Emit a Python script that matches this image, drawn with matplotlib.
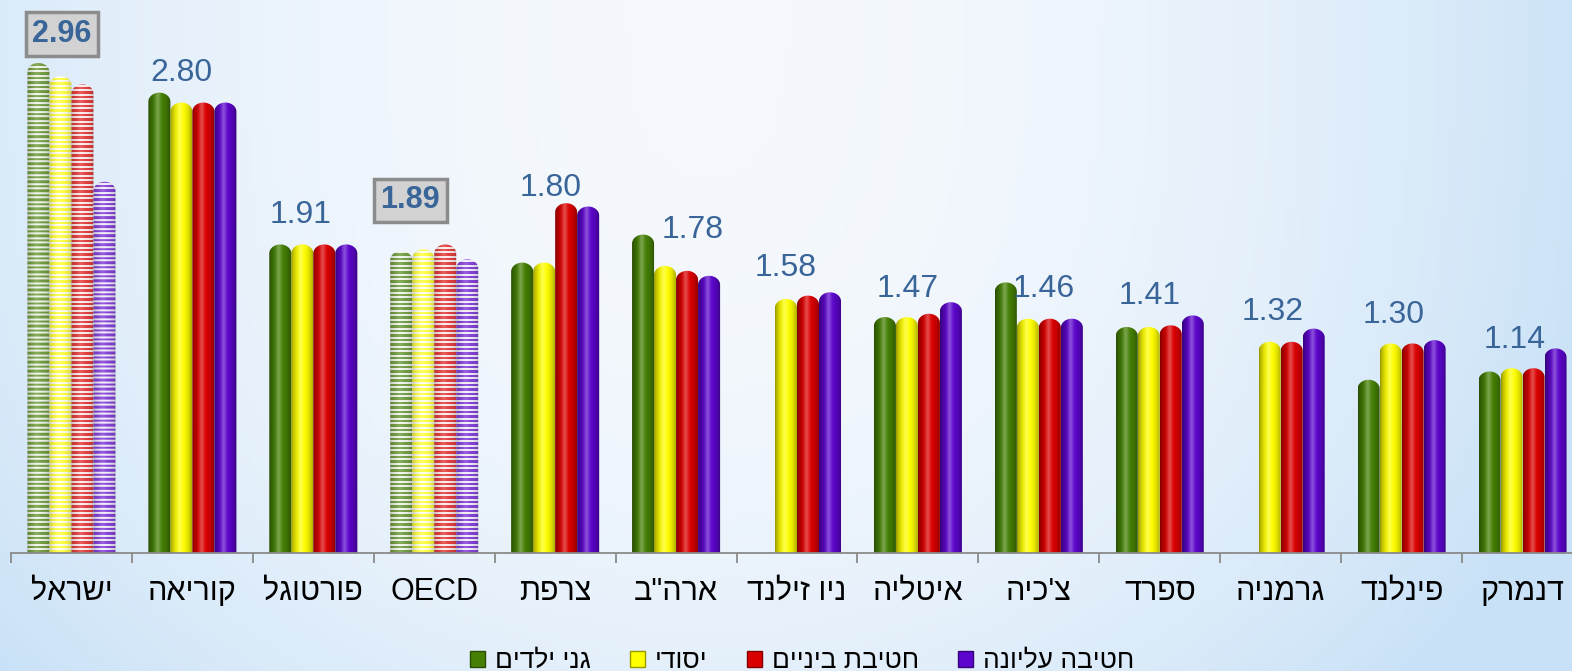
"""
Recreate the grouped cylinder bar chart (ratios by education level, by country).
"""

import matplotlib
matplotlib.use("Agg")
import matplotlib.pyplot as plt
import matplotlib.patches as mpatches
from matplotlib.path import Path
import numpy as np

# ── Data ──────────────────────────────────────────────────

countries = ["ישראל", "קוריאה", "פורטוגל", "OECD", "צרפת", 'ארה"ב', "ניו זילנד",
             "איטליה", "צ'כיה", "ספרד", "גרמניה", "פינלנד", "דנמרק"]
series_names = ["גני ילדים", "יסודי", "חטיבת ביניים", "חטיבה עליונה"]

kindergarten = [2.97, 2.79, 1.87, 1.83, 1.76, 1.93, np.nan, 1.43, 1.64, 1.37, np.nan, 1.05, 1.10]
primary = [2.89, 2.73, 1.87, 1.84, 1.76, 1.74, 1.54, 1.43, 1.42, 1.37, 1.28, 1.27, 1.12]
lower_sec = [2.84, 2.73, 1.87, 1.87, 2.12, 1.71, 1.56, 1.45, 1.42, 1.38, 1.28, 1.27, 1.12]
upper_sec = [2.25, 2.73, 1.87, 1.78, 2.10, 1.68, 1.58, 1.52, 1.42, 1.44, 1.36, 1.29, 1.24]

overall = [2.96, 2.80, 1.91, 1.89, 1.80, 1.78, 1.58, 1.47, 1.46, 1.41, 1.32, 1.30, 1.14]
boxed = ["ישראל", "OECD"]  # highlighted groups (striped bars, boxed label)

# ── Style ──────────────────────────────────────────────────

W, H, DPI = 1572, 671, 100
PX_PER_UNIT = 165.0
BASE_PX = 553
CAP_PX = 9
BAR_W = 0.182
LABEL_BLUE = "#3A6598"
AXIS_GRAY = "#8a8a8a"
COLORS = [(0.27, 0.50, 0.02), (1.0, 1.0, 0.0), (0.86, 0.0, 0.0), (0.36, 0.02, 0.80)]
FONT = ["Liberation Sans", "DejaVu Sans"]

# label placement (pixel offsets from top of group)
label_offsets = [(-9.5, 29), (-11, 20), (-13, 29), (-24, 44), (-5, 15), (17, 5), (-11, 24),
                 (-10, 13), (5, -7), (-10, 19), (-8.5, 17), (-8, 25), (-8, 8)]

plt.rcParams["font.family"] = FONT


def rtl(s):
    # matplotlib has no bidi support: reverse Hebrew strings for display
    if any("\u0590" <= c <= "\u05ff" for c in s):
        return s[::-1]
    return s


def shade_profile(n, base, striped, nrows):
    t = np.linspace(0, 1, n)
    base = np.array(base)
    if striped:
        dark = base * 0.75 + 0.25
        light = base * 0.08 + 0.92
        rows = np.arange(nrows)
        is_dark = ((rows % 4.5) < 2.3)[:, None, None]
        col = np.where(is_dark, dark, light)
        col = np.repeat(col, n, axis=1)
        shade = 0.76 + 0.24 * np.sin(np.pi * t) ** 0.6
        hl = 0.15 * np.exp(-((t - 0.42) / 0.14) ** 2)
    else:
        col = np.tile(base, (1, n, 1))
        shade = 0.58 + 0.42 * np.sin(np.pi * t) ** 0.7
        hl = 0.28 * np.exp(-((t - 0.42) / 0.12) ** 2)
    img = col * shade[None, :, None]
    img = img + (1 - img) * hl[None, :, None]
    return np.clip(img, 0, 1)


def draw_cylinder(ax, rect, color, striped):
    x0, w, h = rect.get_x(), rect.get_width(), rect.get_height()
    rect.set_visible(False)
    if not np.isfinite(h) or h <= 0:
        return
    cap = CAP_PX / PX_PER_UNIT
    t = np.linspace(0, np.pi, 40)
    xs = x0 + w / 2 + (w / 2) * np.cos(t)
    ys = h - cap + cap * np.sin(t)
    verts = [(x0, 0), (x0 + w, 0)] + list(zip(xs, ys)) + [(x0, 0)]
    codes = [Path.MOVETO] + [Path.LINETO] * (len(verts) - 2) + [Path.CLOSEPOLY]
    patch = mpatches.PathPatch(Path(verts, codes), facecolor="none", edgecolor="none")
    ax.add_patch(patch)
    nrows = max(int(round(h * PX_PER_UNIT)), 1) if striped else 1
    img = shade_profile(44, color, striped, nrows)
    im = ax.imshow(img, extent=(x0, x0 + w, 0, h), aspect="auto", origin="lower",
                   interpolation="bilinear", zorder=2)
    im.set_clip_path(patch)


fig = plt.figure(figsize=(W / DPI, H / DPI), dpi=DPI)

# background gradient
bg_ax = fig.add_axes([0, 0, 1, 1], zorder=-1)
gx, gy = np.meshgrid(np.linspace(0, 1, 300), np.linspace(0, 1, 150))
wgt = np.clip(0.9 * ((gx - 0.45) / 0.55) ** 2 + 0.4 * gy ** 3, 0, 1)
c_in = np.array([0.962, 0.976, 0.992])
c_out = np.array([0.79, 0.885, 0.97])
bg = c_in * (1 - wgt[..., None]) + c_out * wgt[..., None]
bg_ax.imshow(bg, aspect="auto", extent=(0, 1, 0, 1), origin="upper")
bg_ax.axis("off")

ax = fig.add_axes([11 / W, (H - BASE_PX) / H, 1.0, BASE_PX / H])
ax.patch.set_alpha(0)

x = np.arange(len(countries))
all_series = [kindergarten, primary, lower_sec, upper_sec]
for k, (vals, color) in enumerate(zip(all_series, COLORS)):
    bars = ax.bar(x + (k - 1.5) * BAR_W, vals, BAR_W, color=color)
    for i, rect in enumerate(bars):
        draw_cylinder(ax, rect, color, countries[i] in boxed)

ax.set_xlim(-0.5, len(countries) - 0.5)
ax.set_ylim(0, BASE_PX / PX_PER_UNIT)

# group value labels
for i, (v, (dx, dy)) in enumerate(zip(overall, label_offsets)):
    top = np.nanmax([s[i] for s in all_series])
    if countries[i] in boxed:
        ax.annotate(f"{v:.2f}", (x[i], top), xytext=(dx, dy), textcoords="offset pixels",
                    ha="center", va="center", fontsize=22, fontweight="bold", color=LABEL_BLUE,
                    bbox=dict(boxstyle="square,pad=0.22", facecolor="#d2d2d2",
                              edgecolor="#8c8c8c", linewidth=2.5), zorder=5)
    else:
        ax.annotate(f"{v:.2f}", (x[i], top), xytext=(dx, dy), textcoords="offset pixels",
                    ha="center", va="center", fontsize=23, color=LABEL_BLUE, zorder=5)

# axis
for side in ["left", "right", "top"]:
    ax.spines[side].set_visible(False)
ax.spines["bottom"].set_color(AXIS_GRAY)
ax.spines["bottom"].set_linewidth(1.3)
ax.set_yticks([])
ax.set_xticks(x)
ax.set_xticklabels([rtl(c) for c in countries], fontsize=22)
ax.set_xticks(np.arange(len(countries)) - 0.5, minor=True)
ax.tick_params(axis="x", which="major", length=0, pad=17)
ax.tick_params(axis="x", which="minor", length=7, width=1.3, color=AXIS_GRAY, direction="out")

# legend
handles = [mpatches.Patch(facecolor=c, edgecolor=tuple(np.array(c) * 0.6), linewidth=1)
           for c in COLORS]
fig.legend(handles, [rtl(s) for s in series_names], loc="center", ncol=4,
           bbox_to_anchor=(802 / W, 10 / H), frameon=False, fontsize=19,
           handlelength=0.57, handleheight=0.57, handletextpad=0.38, columnspacing=1.48)

plt.savefig("out.png", dpi=DPI)
plt.close()
print("Saved out.png")
